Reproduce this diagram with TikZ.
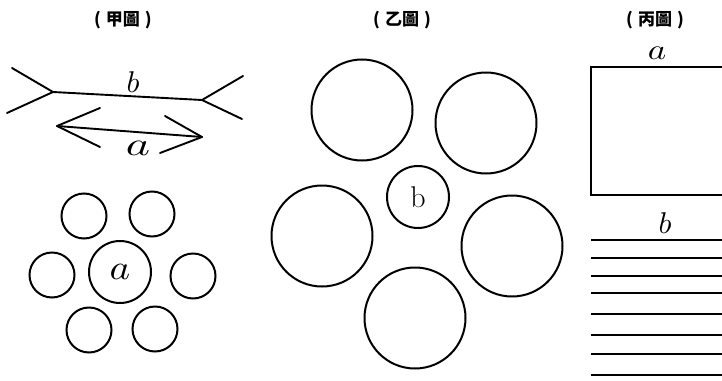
\documentclass[tikz,border=0pt]{standalone}
\usepackage{fontspec}
\newfontfamily\cjk{Noto Sans CJK TC}
\tikzset{
  ln/.style={line width=1.9pt, line cap=round, line join=round},
  circ/.style={circle, draw, line width=2pt, inner sep=0pt},
  ttl/.style={font=\cjk\bfseries\fontsize{17}{17}\selectfont, inner sep=0pt},
  bar/.style={line width=2.4pt},
  lbl/.style={inner sep=0pt},
}
\begin{document}
\begin{tikzpicture}[x=1pt,y=-1pt]
\useasboundingbox (0,0) rectangle (722,380);
\clip (0,0) rectangle (722,380);
\fill[white] (0,0) rectangle (722,380);
% titles
\node[ttl] (t1) at (123,20) {(\hspace{5pt}甲圖\hspace{5pt})};
\node[ttl] (t2) at (402,20) {(\hspace{5pt}乙圖\hspace{5pt})};
\node[ttl] (t3) at (655,20) {(\hspace{5pt}丙圖\hspace{5pt})};
% ---- figure 1: Mueller-Lyer
\coordinate (bl) at (53,92);
\coordinate (br) at (202,100);
\coordinate (bl1) at (12,68);
\coordinate (bl2) at (7,113);
\coordinate (br1) at (243,76);
\coordinate (br2) at (242,119);
\draw[ln] (bl1) -- (bl) -- (bl2);
\draw[ln] (bl) -- (br);
\draw[ln] (br1) -- (br) -- (br2);
\node[lbl] (lb) at (133,82) {\scalebox{3}{$b$}};
\coordinate (al) at (57,126);
\coordinate (ar) at (202,137);
\coordinate (al1) at (100,108);
\coordinate (al2) at (100,147);
\coordinate (ar1) at (165,116);
\coordinate (ar2) at (160,153);
\draw[ln] (al1) -- (al) -- (al2);
\draw[ln] (al) -- (ar);
\draw[ln] (ar1) -- (ar) -- (ar2);
\node[lbl] (la) at (138,148) {\scalebox{4.6}[3.3]{$a$}};
% ---- figure 1: small circles
\node[circ, minimum size=62pt] (ca) at (120,272) {\scalebox{3.9}[3.5]{$a$}};
\node[circ, minimum size=45pt] (c1) at (84,216) {};
\node[circ, minimum size=45pt] (c2) at (152,214) {};
\node[circ, minimum size=45pt] (c3) at (52,275) {};
\node[circ, minimum size=45pt] (c4) at (193,276) {};
\node[circ, minimum size=45pt] (c5) at (89,330) {};
\node[circ, minimum size=45pt] (c6) at (155,329) {};
% ---- figure 2: big circles
\node[circ, minimum size=62pt] (cb) at (418,197) {\fontsize{30}{30}\selectfont b};
\node[circ, minimum size=101pt] (d1) at (362,110) {};
\node[circ, minimum size=101pt] (d2) at (486,123) {};
\node[circ, minimum size=101pt] (d3) at (322,236) {};
\node[circ, minimum size=101pt] (d4) at (512,246) {};
\node[circ, minimum size=101pt] (d5) at (415,318) {};
% ---- figure 3
\node[lbl] (ra) at (657,53) {\scalebox{3.5}[2.9]{$a$}};
\coordinate (q1) at (726,67);
\coordinate (q2) at (591,67);
\coordinate (q3) at (591,195);
\coordinate (q4) at (726,195);
\draw[bar, line join=miter] (q1) -- (q2) -- (q3) -- (q4);
\node[lbl] (rb) at (665,223) {\scalebox{3}{$b$}};
\foreach \yy [count=\i] in {240,258,276,293,314,335,354,375}{
  \coordinate (s\i) at (591,\yy);
  \coordinate (e\i) at (726,\yy);
  \draw[bar] (s\i) -- (e\i);
}
\end{tikzpicture}
\end{document}
